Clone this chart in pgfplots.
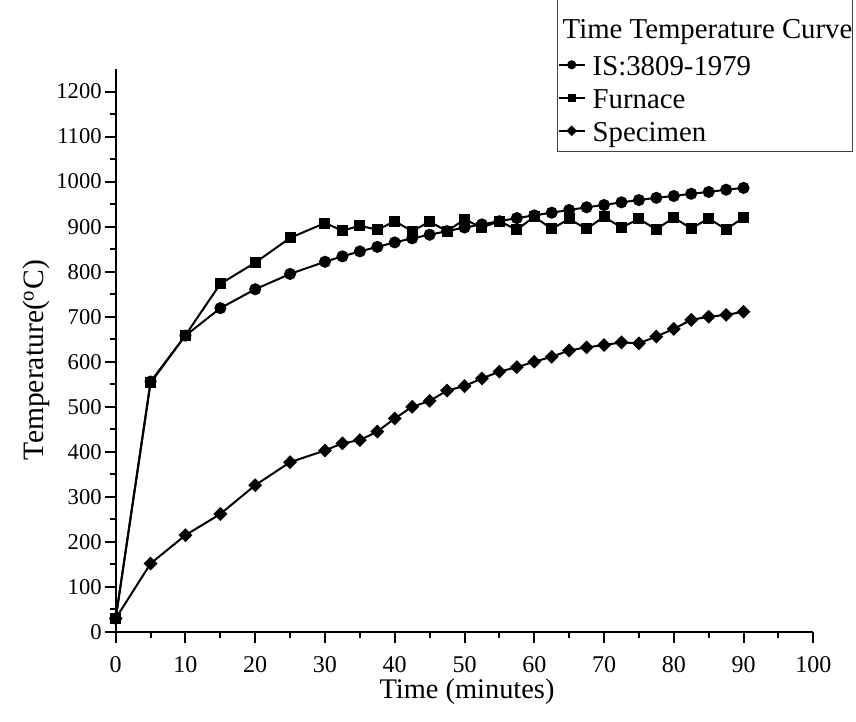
\documentclass[border=0pt]{standalone}
\usepackage{fontspec}
\setmainfont{Liberation Serif}
\usepackage{pgfplots}
\pgfplotsset{compat=1.18}

\begin{document}
\begin{tikzpicture}
\useasboundingbox (-57.85pt,-45pt) rectangle (370.15pt,316pt);
\begin{axis}[
  scale only axis, width=348.8pt, height=281.5pt,
  at={(0,0)}, anchor=south west,
  xmin=0, xmax=100, ymin=0, ymax=1250,
  axis lines*=left,
  axis line style={line width=1.2pt},
  xtick={0,10,...,100}, ytick={0,100,...,1200},
  minor x tick num=1, minor y tick num=1,
  tick align=outside,
  major tick length=5.5pt, minor tick length=3pt,
  every tick/.style={black, line width=1pt},
  xticklabel style={font=\fontsize{12}{14}\selectfont, yshift=-3pt},
  yticklabel style={font=\fontsize{11.3}{14}\selectfont, xshift=2pt},
  /pgf/number format/assume math mode=true,
  /pgf/number format/1000 sep={},
  clip=false,
  xlabel={Time (minutes)},
  ylabel={Temperature(\textsuperscript{o}C)},
  every axis x label/.style={at={(axis description cs:0.5036,-0.1065)}, anchor=center,
    font=\fontsize{14.2}{16}\selectfont},
  every axis y label/.style={at={(axis description cs:-0.113,0.483)}, anchor=center, rotate=90,
    font=\fontsize{14.8}{16}\selectfont},
  legend image code/.code={\draw[mark repeat=2, mark phase=2, line width=1pt, every mark/.append style={scale=0.7}] plot coordinates {(0pt,0pt) (6.5pt,0pt) (13pt,0pt)};},
  legend cell align=left,
  legend style={at={(0.6326,0.8526)}, anchor=south west, draw=black!75, line width=0.7pt,
    inner xsep=0pt, inner ysep=2pt, row sep=0pt,
    font=\fontsize{14.4}{17}\selectfont,
    nodes={inner sep=0pt, text height=13.5pt, text depth=3pt},
    /tikz/every odd column/.append style={column sep=3.5pt}},
]
\addlegendimage{empty legend}
\addlegendentry[text height=24pt, text depth=5pt]{\hspace*{-15pt}Time Temperature Curve}

\addplot[black, line width=1pt, mark=*, mark size=2.5pt] coordinates {
  (0,30) (5,556) (10,658) (15,719) (20,761) (25,795) (30,822) (32.5,834)
  (35,845) (37.5,855) (40,865) (42.5,874) (45,882) (47.5,890) (50,898)
  (52.5,905) (55,912) (57.5,919) (60,925) (62.5,931) (65,937) (67.5,943)
  (70,948) (72.5,954) (75,959) (77.5,964) (80,968) (82.5,973) (85,977)
  (87.5,982) (90,986)
};
\addlegendentry{IS:3809-1979}

\addplot[black, line width=1pt, mark=square*, mark size=2.25pt] coordinates {
  (0,30) (5,553) (10,659) (15,773) (20,820) (25,875) (30,908) (32.5,891)
  (35,902) (37.5,893) (40,912) (42.5,890) (45,911) (47.5,890) (50,916)
  (52.5,898) (55,912) (57.5,893) (60,922) (62.5,895) (65,917) (67.5,895)
  (70,922) (72.5,898) (75,917) (77.5,894) (80,920) (82.5,896) (85,918)
  (87.5,894) (90,920)
};
\addlegendentry{Furnace}

\addplot[black, line width=1pt, mark=square*, mark size=1.95pt, mark options={rotate=45}] coordinates {
  (0,30) (5,152) (10,215) (15,262) (20,326) (25,377) (30,403) (32.5,419)
  (35,426) (37.5,445) (40,474) (42.5,500) (45,513) (47.5,536) (50,546)
  (52.5,563) (55,578) (57.5,588) (60,600) (62.5,611) (65,625) (67.5,632)
  (70,637) (72.5,643) (75,641) (77.5,656) (80,673) (82.5,693) (85,700)
  (87.5,704) (90,711)
};
\addlegendentry{Specimen}
\end{axis}
\end{tikzpicture}
\end{document}
